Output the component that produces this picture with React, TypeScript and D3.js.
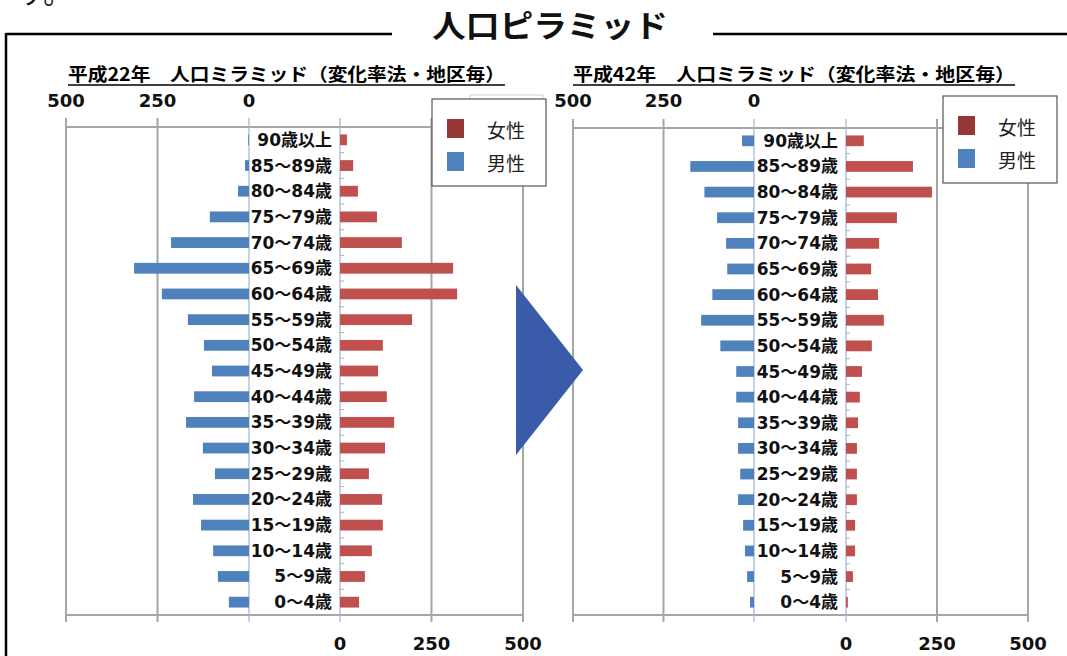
import * as d3 from "d3";

// 年齢階級（上から下へ）
const AGES = [
  "90歳以上", "85～89歳", "80～84歳", "75～79歳", "70～74歳", "65～69歳",
  "60～64歳", "55～59歳", "50～54歳", "45～49歳", "40～44歳", "35～39歳",
  "30～34歳", "25～29歳", "20～24歳", "15～19歳", "10～14歳", "5～9歳", "0～4歳",
];
// 平成22年
const MALE_H22 = [2, 11, 30, 107, 213, 314, 238, 167, 123, 101, 150, 172, 126, 93, 153, 131, 98, 85, 55];
const FEMALE_H22 = [19, 36, 49, 101, 169, 309, 320, 197, 117, 104, 128, 148, 123, 79, 115, 117, 87, 68, 52];
// 平成42年
const MALE_H42 = [33, 176, 137, 102, 77, 74, 115, 146, 93, 49, 49, 44, 44, 38, 44, 30, 25, 19, 11];
const FEMALE_H42 = [49, 184, 236, 140, 91, 69, 88, 104, 71, 44, 38, 33, 30, 30, 30, 25, 25, 19, 5];

const AXIS_TICKS = [0, 250, 500];
const LEGEND = ["女性", "男性"];
const TITLE = "人口ピラミッド";
const SUBTITLES = ["平成22年　人口ミラミッド（変化率法・地区毎）", "平成42年　人口ミラミッド（変化率法・地区毎）"];

const JP = '"Noto Sans CJK JP", sans-serif';
const NUM = '"DejaVu Sans", sans-serif';
const LBL = '"DejaVu Sans", "Noto Sans CJK JP", sans-serif';

const MALE_COLOR = "#4f81bd";
const FEMALE_COLOR = "#c0504d";
const LEGEND_COLORS = ["#953735", "#4f81bd"];
const GRID = "#a6a6a6";

type PyramidProps = {
  title: string;
  male: number[];
  female: number[];
  maleRange: [number, number]; // x of 0, x of 500
  femaleRange: [number, number];
  top: number;
  bottom: number;
  titleX: number;
  titleW: number;
  legendX: number;
  legendY: number;
};

const Pyramid = ({ title, male, female, maleRange, femaleRange, top, bottom, titleX, titleW, legendX, legendY }: PyramidProps) => {
  const xMale = d3.scaleLinear().domain([0, 500]).range(maleRange);
  const xFemale = d3.scaleLinear().domain([0, 500]).range(femaleRange);
  const y = d3.scaleBand<string>().domain(AGES).range([top, bottom]);
  const bw = y.bandwidth();
  const barH = bw * 0.42;

  return (
    <g>
      {/* タイトル */}
      <text x={titleX} y={81} fontFamily={JP} fontWeight={700} fontSize={18}
        textLength={titleW} lengthAdjust="spacingAndGlyphs">{title}</text>
      <line x1={titleX} x2={titleX + titleW} y1={85} y2={85} stroke="#000" strokeWidth={1.5} />

      {/* グリッド */}
      {[250, 500].map((t) => (
        <g key={t}>
          <line x1={xMale(t)} x2={xMale(t)} y1={top - 9} y2={bottom + 7} stroke={GRID} strokeWidth={2} />
          <line x1={xFemale(t)} x2={xFemale(t)} y1={top - 9} y2={bottom + 7} stroke={GRID} strokeWidth={2} />
        </g>
      ))}
      <line x1={xMale(500)} x2={xFemale(500)} y1={top} y2={top} stroke={GRID} strokeWidth={2} />
      <line x1={xMale(500)} x2={xFemale(500)} y1={bottom} y2={bottom} stroke={GRID} strokeWidth={2} />
      <line x1={xMale(0)} x2={xMale(0)} y1={top - 9} y2={bottom + 7} stroke="#9fb2d2" strokeWidth={1.2} />
      <line x1={xFemale(0)} x2={xFemale(0)} y1={top - 9} y2={bottom + 7} stroke="#9fb2d2" strokeWidth={1.2} />
      {AGES.map((a) => (
        <line key={a} x1={xFemale(0)} x2={xFemale(0) + 4} y1={(y(a) ?? 0) + bw} y2={(y(a) ?? 0) + bw} stroke="#b0b0b0" />
      ))}

      {/* 棒 */}
      {AGES.map((a, i) => (
        <g key={a}>
          <rect x={xMale(male[i])} y={(y(a) ?? 0) + (bw - barH) / 2} width={xMale(0) - xMale(male[i])} height={barH} fill={MALE_COLOR} />
          <rect x={xFemale(0)} y={(y(a) ?? 0) + (bw - barH) / 2} width={xFemale(female[i]) - xFemale(0)} height={barH} fill={FEMALE_COLOR} />
          <text x={xFemale(0) - 8} y={(y(a) ?? 0) + bw / 2} textAnchor="end" dominantBaseline="central"
            fontFamily={LBL} fontWeight={700} fontSize={17} fill="#111">{a}</text>
        </g>
      ))}

      {/* 目盛ラベル */}
      {AXIS_TICKS.map((t) => (
        <text key={"m" + t} x={xMale(t)} y={107} textAnchor="middle" fontFamily={NUM} fontWeight={700} fontSize={18} fill="#111">{t}</text>
      ))}
      {AXIS_TICKS.map((t) => (
        <text key={"f" + t} x={xFemale(t)} y={650} textAnchor="middle" fontFamily={NUM} fontWeight={700} fontSize={18} fill="#111">{t}</text>
      ))}

      {/* 凡例 */}
      <g transform={`translate(${legendX},${legendY})`}>
        <rect x={0} y={0} width={114} height={87} fill="#fff" stroke="#555" strokeWidth={1.2} />
        {LEGEND.map((l, i) => (
          <g key={l} transform={`translate(0,${30 + i * 33})`}>
            <rect x={15} y={-10} width={17} height={19} fill={LEGEND_COLORS[i]} />
            <text x={55} y={0} dominantBaseline="central" fontFamily={JP} fontSize={19} fill="#222">{l}</text>
          </g>
        ))}
      </g>
    </g>
  );
};

export default function App() {
  return (
    <svg width={1067} height={656} style={{ position: "absolute", left: 0, top: 0, background: "#fff" }}>
      <rect width={1067} height={656} fill="#fff" />
      <text x={18} y={4} fontFamily={JP} fontSize={28} fill="#111">す。</text>

      {/* 枠と見出し */}
      <line x1={6} x2={392} y1={34} y2={34} stroke="#000" strokeWidth={2.5} />
      <line x1={6} x2={6} y1={33} y2={656} stroke="#000" strokeWidth={2.5} />
      <line x1={713} x2={1067} y1={34} y2={34} stroke="#000" strokeWidth={2.5} />
      <text x={550} y={37} textAnchor="middle" fontFamily={JP} fontWeight={700} fontSize={31}
        textLength={236} lengthAdjust="spacingAndGlyphs" fill="#111">{TITLE}</text>

      {/* 左の凡例の裏の枠 */}
      <rect x={470} y={95} width={73} height={20} fill="none" stroke="#d0d0d0" />

      <Pyramid title={SUBTITLES[0]} male={MALE_H22} female={FEMALE_H22}
        maleRange={[249, 66]} femaleRange={[340, 523]} top={127} bottom={615}
        titleX={68} titleW={437} legendX={432} legendY={99} />
      <Pyramid title={SUBTITLES[1]} male={MALE_H42} female={FEMALE_H42}
        maleRange={[754, 573]} femaleRange={[846, 1028]} top={128} bottom={615}
        titleX={573} titleW={442} legendX={943} legendY={96} />

      {/* 矢印 */}
      <path d="M516,285 L583,370 L516,455 Z" fill="#3a5ca8" />
    </svg>
  );
}
